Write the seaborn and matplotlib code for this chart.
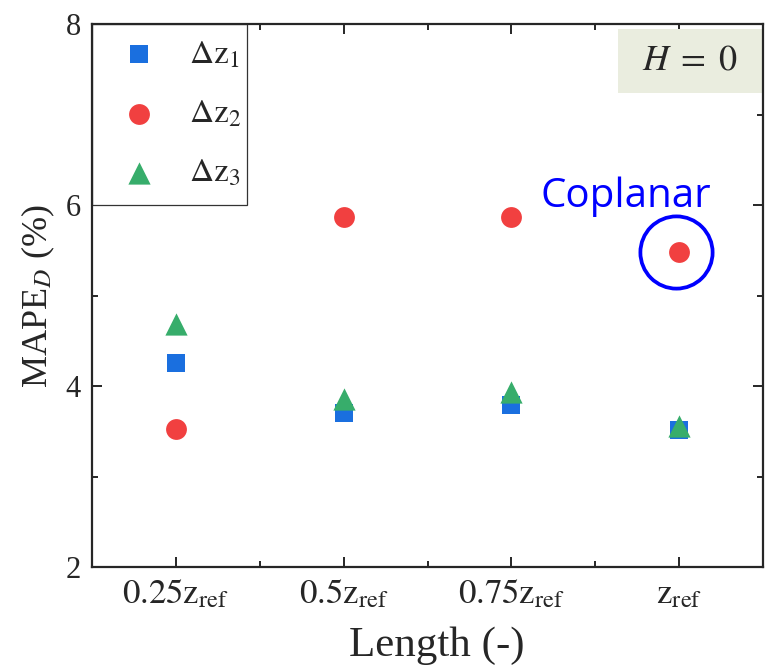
import numpy as np
import pandas as pd
import matplotlib
matplotlib.use("Agg")
import matplotlib.pyplot as plt
from matplotlib.patches import Rectangle
from matplotlib.ticker import MultipleLocator, FixedLocator
import seaborn as sns

# data
lengths = [r"$\mathrm{0.25z_{ref}}$", r"$\mathrm{0.5z_{ref}}$",
           r"$\mathrm{0.75z_{ref}}$", r"$\mathrm{z_{ref}}$"]
dz1 = [4.25, 3.70, 3.79, 3.52]
dz2 = [3.53, 5.87, 5.87, 5.48]
dz3 = [4.69, 3.86, 3.94, 3.56]
series_names = [r"$\Delta\mathrm{z}_1$", r"$\Delta\mathrm{z}_2$", r"$\Delta\mathrm{z}_3$"]
coplanar_idx = 3

colors = ["#1a6fdf", "#f14040", "#37ad6b"]
markers = ["s", "o", "^"]
sizes = [13.5, 15, 16]

sns.set_style("ticks")
plt.rcParams["font.family"] = ["Liberation Serif", "DejaVu Serif"]
plt.rcParams["mathtext.fontset"] = "stix"

fig = plt.figure(figsize=(7.67, 6.68), dpi=100)
ax = fig.add_axes([0.12, 0.151, 0.875, 0.813])

pos = np.arange(len(lengths))
for name, vals, c, m, s in zip(series_names, [dz1, dz2, dz3], colors, markers, sizes):
    df = pd.DataFrame({"x": pos, "y": vals})
    sns.scatterplot(data=df, x="x", y="y", ax=ax, color=c, marker=m,
                    s=s ** 2, linewidth=0, label=name, zorder=3)

# coplanar ring around the dz2 point
ax.plot(pos[coplanar_idx] - 0.02, dz2[coplanar_idx], marker="o", ms=52,
        mfc="none", mec="#0000ff", mew=2.7, ls="none", zorder=4)
ax.text(pos[coplanar_idx] - 0.32, 5.98, "Coplanar", color="#0000ff",
        fontsize=29, family=["Open Sans", "DejaVu Sans"], ha="center", va="baseline")

# H = 0 box
ax.add_patch(Rectangle((0.784, 0.873), 0.216, 0.118, transform=ax.transAxes,
                       fc="#eaeddf", ec="none", zorder=1))
ax.text(0.891, 0.932, r"$H\;=\;0$", transform=ax.transAxes, fontsize=26,
        ha="center", va="center", zorder=2)

ax.set_xlim(-0.5, 3.5)
ax.set_ylim(2, 8)
ax.set_xticks(pos)
ax.set_xticklabels(lengths)
ax.xaxis.set_minor_locator(FixedLocator(pos[:-1] + 0.5))
ax.yaxis.set_major_locator(MultipleLocator(2))
ax.yaxis.set_minor_locator(MultipleLocator(1))
ax.tick_params(which="both", direction="in", top=True, right=True, width=1.4)
ax.tick_params(which="major", length=7, labelsize=22, pad=8)
ax.tick_params(axis="x", which="major", labelsize=25)
ax.tick_params(which="minor", length=4)
for sp in ax.spines.values():
    sp.set_linewidth(1.6)

ax.set_xlabel("Length (-)", fontsize=31, labelpad=12)
ax.xaxis.set_label_coords(0.514, -0.11)
ax.set_ylabel(r"MAPE$_{D}$ (%)", fontsize=26, labelpad=6)

# legend frame drawn separately so it sits flush with the spines
ax.add_patch(Rectangle((0, 0.667), 0.231, 0.333, transform=ax.transAxes,
                       fc="white", ec="#333333", lw=0.9, zorder=2))
leg = ax.legend(loc="upper left", bbox_to_anchor=(0, 1.008), borderaxespad=0,
                fontsize=24, frameon=False, handletextpad=0.7,
                labelspacing=0.86, borderpad=0.6, handlelength=1.6)
leg.set_zorder(5)

fig.savefig("out.png", dpi=100)
